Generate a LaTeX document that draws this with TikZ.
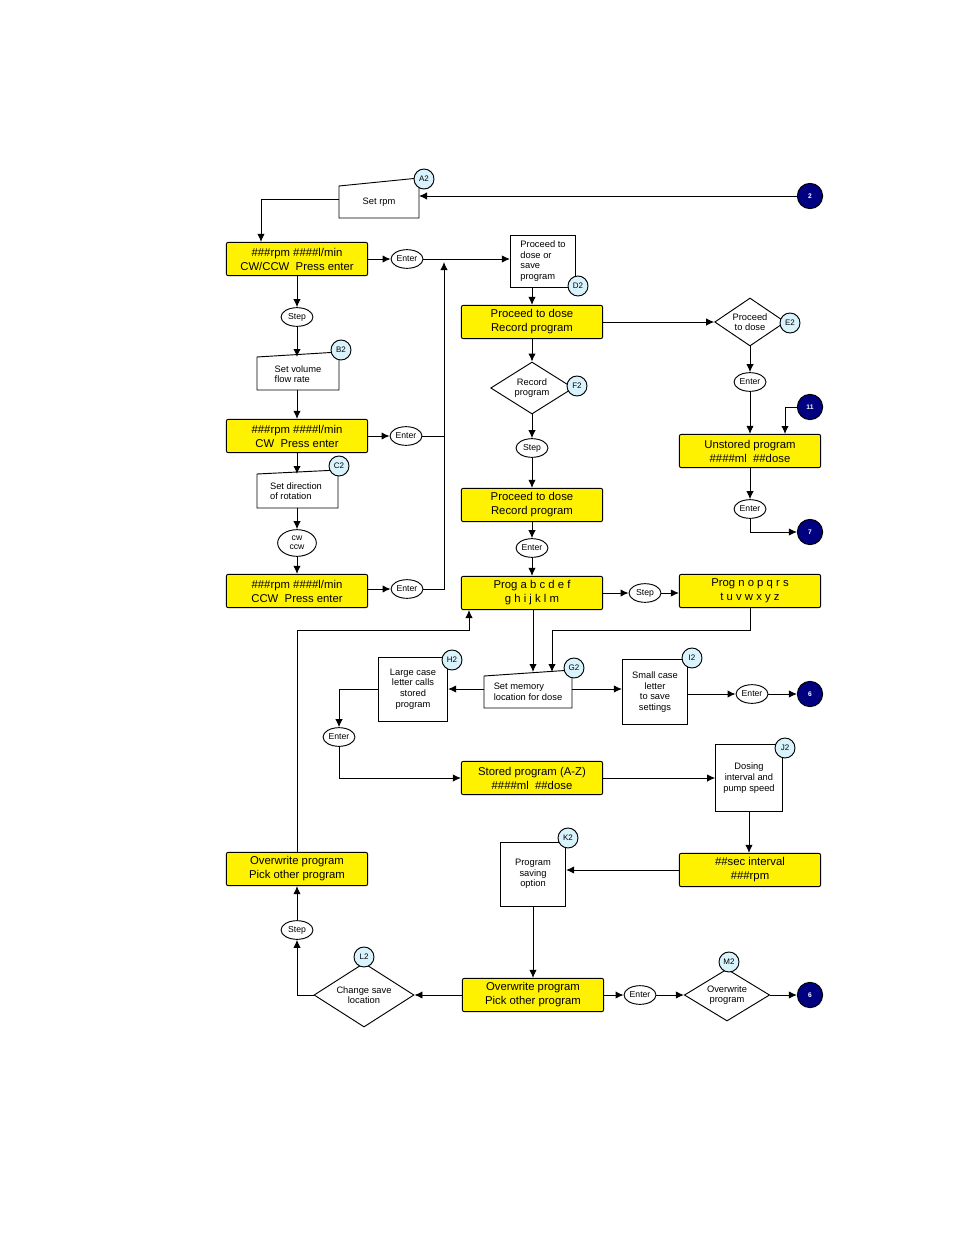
\documentclass[tikz,border=0pt]{standalone}
\usepackage{fontspec}
\setmainfont{Liberation Sans}
\usetikzlibrary{shapes.geometric,arrows.meta}
\begin{document}
\begin{tikzpicture}[x=0.75pt,y=-0.75pt,>={Latex[length=6pt,width=5.5pt]},
    every node/.style={font=\fontsize{7}{8}\selectfont,align=center},
    mode/.style={rectangle,rounded corners=1.5pt,draw,fill=yellow,minimum width=106pt,minimum height=25pt,inner sep=0pt,font=\fontsize{8.5}{10.5}\selectfont},
    note/.style={rectangle,draw,inner sep=1pt},
    key/.style={ellipse,draw,fill=white,minimum width=24pt,minimum height=14pt,inner sep=0pt,font=\fontsize{6.5}{7}\selectfont},
    choice/.style={diamond,draw,fill=white,aspect=1.6,inner sep=0pt},
    tag/.style={circle,draw,fill=cyan!15,minimum size=15pt,inner sep=0pt,font=\fontsize{6}{7}\selectfont},
    link/.style={circle,draw,fill=blue!50!black,text=white,minimum size=19pt,inner sep=0pt,font=\bfseries\fontsize{5}{6}\selectfont},
    line width=0.7pt]

  \useasboundingbox (0,0) rectangle (954,1235);

  % left column
  \node[note,draw=none,minimum width=60pt,minimum height=26pt] (rpm) at (379,202) {Set rpm};
  \draw (339,218) -- (419,218) -- (419,178) -- (339,186) -- cycle;
  \node[tag] (a2) at (424,179) {A2};
  \node[mode] (cwccw) at (297,259) {\#\#\#rpm \#\#\#\#l/min\\CW/CCW \ Press enter};
  \node[key] (ent1) at (407,259) {Enter};
  \node[key] (step1) at (297,317) {Step};
  \node[draw=none,minimum width=61pt,minimum height=24pt,align=left] (flow) at (298,374) {Set volume\\flow rate};
  \draw (257,390) -- (339,390) -- (339,352) -- (257,357) -- cycle;
  \node[tag] (b2) at (341,350) {B2};
  \node[mode] (cw) at (297,436) {\#\#\#rpm \#\#\#\#l/min\\CW \ Press enter};
  \node[key] (ent2) at (406,436) {Enter};
  \node[draw=none,align=left] (dir) at (296,491) {Set direction\\of rotation};
  \draw (257,508) -- (338,508) -- (338,470) -- (257,474) -- cycle;
  \node[tag] (c2) at (339,466) {C2};
  \node[key,minimum width=29pt,minimum height=20pt] (rot) at (297,543) {cw\\ccw};
  \node[mode] (ccw) at (297,591) {\#\#\#rpm \#\#\#\#l/min\\CCW \ Press enter};
  \node[key] (ent3) at (407,589) {Enter};

  % middle column
  \node[note,minimum width=49pt,minimum height=39pt,align=left] (save) at (543,261) {Proceed to\\dose or\\save\\program};
  \node[tag] (d2) at (578,286) {D2};
  \node[mode] (dose1) at (532,322) {Proceed to dose\\Record program};
  \node[choice,minimum width=62pt,minimum height=39pt] (rec) at (532,388) {Record\\program};
  \node[tag] (f2) at (577,386) {F2};
  \node[key] (step2) at (532,448) {Step};
  \node[mode] (dose2) at (532,505) {Proceed to dose\\Record program};
  \node[key] (ent4) at (532,548) {Enter};
  \node[mode] (proga) at (532,593) {Prog a b c d e f\\g h i j k l m};
  \node[key] (step3) at (645,593) {Step};
  \node[mode] (progn) at (750,591) {Prog n o p q r s\\t u v w x y z};

  % right column
  \node[choice,minimum width=53pt,minimum height=36pt] (todose) at (750,322) {Proceed\\to dose};
  \node[tag] (e2) at (790,323) {E2};
  \node[key] (ent5) at (750,382) {Enter};
  \node[link] (l11) at (810,407) {11};
  \node[mode] (unst) at (750,451) {Unstored program\\\#\#\#\#ml \ \#\#dose};
  \node[key] (ent6) at (750,509) {Enter};
  \node[link] (l7) at (810,532) {7};
  \node[link] (l2) at (810,196) {2};

  % memory row
  \node[draw=none,align=left] (mem) at (528,692) {Set memory\\location for dose};
  \draw (484,708) -- (572,708) -- (572,670) -- (484,676) -- cycle;
  \node[tag] (g2) at (574,668) {G2};
  \node[note,minimum width=52pt,minimum height=48pt] (large) at (413,689) {Large case\\letter calls\\stored\\program};
  \node[tag] (h2) at (452,660) {H2};
  \node[note,minimum width=49pt,minimum height=49pt] (small) at (655,692) {Small case\\letter\\to save\\settings};
  \node[tag] (i2) at (692,658) {I2};
  \node[key] (ent7) at (752,694) {Enter};
  \node[link] (l6a) at (810,694) {6};
  \node[key] (ent8) at (339,737) {Enter};
  \node[mode] (stored) at (532,778) {Stored program (A-Z)\\\#\#\#\#ml \ \#\#dose};
  \node[note,minimum width=50pt,minimum height=50pt] (interval) at (749,778) {Dosing\\interval and\\pump speed};
  \node[tag] (j2) at (785,748) {J2};
  \node[mode] (sec) at (750,870) {\#\#sec interval\\\#\#\#rpm};
  \node[note,minimum width=49pt,minimum height=48pt] (saving) at (533,874) {Program\\saving\\option};
  \node[tag] (k2) at (568,838) {K2};

  % bottom row
  \node[mode] (over1) at (297,869) {Overwrite program\\Pick other program};
  \node[key] (step4) at (297,930) {Step};
  \node[choice,minimum width=75pt,minimum height=48pt] (loc) at (364,995) {Change save\\location};
  \node[tag] (l2t) at (364,957) {L2};
  \node[mode] (over2) at (533,995) {Overwrite program\\Pick other program};
  \node[key] (ent9) at (640,995) {Enter};
  \node[choice,minimum width=64pt,minimum height=39pt] (owr) at (727,995) {Overwrite\\program};
  \node[tag] (m2) at (729,962) {M2};
  \node[link] (l6b) at (810,995) {6};

  % connectors
  \draw[->] (l2) -- (419,196);
  \draw[->] (339,199) -| (cwccw.north -| 261,0);
  \draw[->] (cwccw) -- (ent1);
  \draw[->] (ent1) -- (save.west |- ent1);
  \draw[->] (ent3) -| (444,262);
  \draw (ent2) -- (444,436);
  \draw[->] (cwccw) -- (step1);
  \draw[->] (step1) -- (297,357);
  \draw[->] (flow.south -| 297,0) -- (cw);
  \draw[->] (cw) -- (297,474);
  \draw[->] (297,508) -- (rot);
  \draw[->] (rot) -- (ccw);
  \draw[->] (cw) -- (ent2);
  \draw[->] (ccw.east |- ent3) -- (ent3);
  \draw[->] (save.south -| dose1) -- (dose1);
  \draw[->] (dose1) -- (rec);
  \draw[->] (rec) -- (step2);
  \draw[->] (step2) -- (dose2);
  \draw[->] (dose2) -- (ent4);
  \draw[->] (ent4) -- (proga);
  \draw[->] (proga) -- (step3);
  \draw[->] (step3) -- (progn.west |- step3);
  \draw[->] (dose1) -- (todose);
  \draw[->] (todose) -- (ent5);
  \draw[->] (ent5) -- (unst);
  \draw[->] (l11) -| (785,434);
  \draw[->] (unst) -- (ent6);
  \draw[->] (ent6) |- (l7);
  \draw[->] (proga.south -| 533,0) -- (533,672);
  \draw[->] (progn.south) |- (552,630) -- (552,672);
  \draw[->] (484,689) -- (large.east |- 0,689);
  \draw[->] (572,689) -- (small.west |- 0,689);
  \draw[->] (small.east |- ent7) -- (ent7);
  \draw[->] (ent7) -- (l6a);
  \draw[->] (large.west) -| (ent8);
  \draw[->] (ent8) |- (stored);
  \draw[->] (stored) -- (interval);
  \draw[->] (interval) -- (sec.north -| interval);
  \draw[->] (sec.west) -- (saving.east |- sec.west);
  \draw[->] (saving) -- (over2.north -| saving);
  \draw[->] (over2) -- (ent9);
  \draw[->] (ent9) -- (owr);
  \draw[->] (owr) -- (l6b);
  \draw[->] (over2) -- (loc);
  \draw[->] (loc.west) -| (step4);
  \draw[->] (step4) -- (over1);
  \draw[->] (over1) |- (469,630) -- (469,610);
\end{tikzpicture}
\end{document}
